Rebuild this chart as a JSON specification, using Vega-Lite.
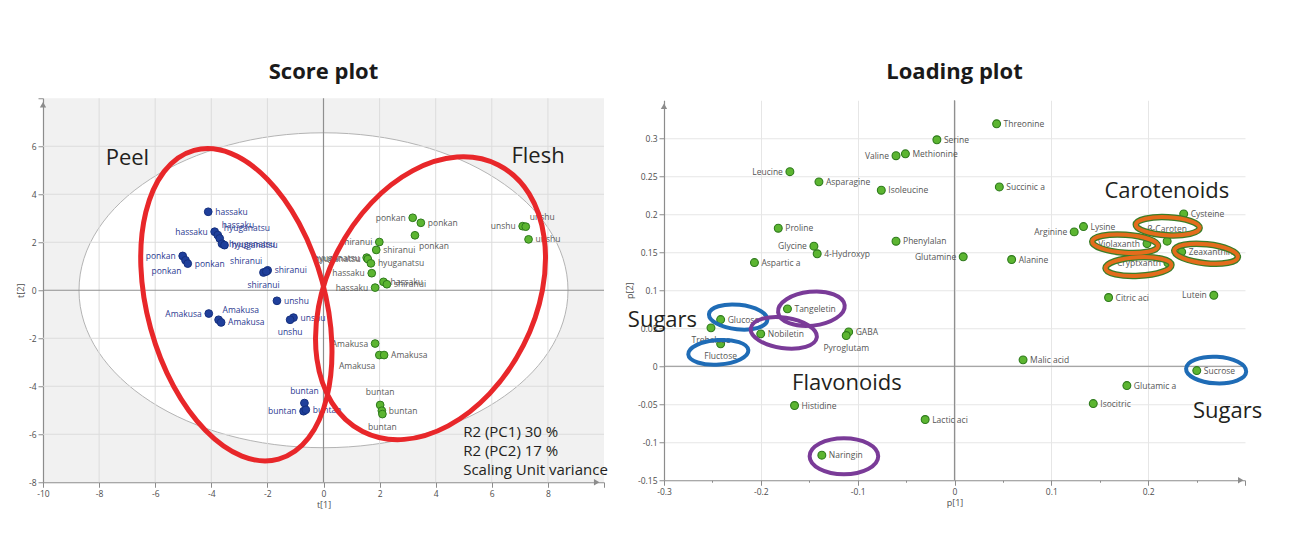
{
  "$schema": "https://vega.github.io/schema/vega-lite/v6.json",
  "background": "white",
  "padding": {"left": 16, "top": 60, "right": 5, "bottom": 5},
  "spacing": 17,
  "center": true,
  "resolve": {"scale": {"color": "independent", "fill": "independent", "stroke": "independent", "shape": "independent"}},
  "config": {
    "font": "Open Sans",
    "view": {"stroke": null},
    "axis": {"domainColor": "#8c8c8c", "tickColor": "#8c8c8c", "labelColor": "#4d4d4d", "labelFontSize": 8.5, "labelFont": "Open Sans", "titleFont": "Open Sans", "titleFontSize": 9, "titleFontWeight": "normal", "titleColor": "#4d4d4d", "titlePadding": 3, "labelPadding": 2, "gridColor": "#e6e6e6", "labelFlush": false, "labelOverlap": false, "domainWidth": 1.2},
    "title": {"fontSize": 22, "fontWeight": "bold", "color": "#1a1a1a", "anchor": "middle", "frame": "group", "font": "Open Sans"}
  },
  "datasets": {
    "score": [
      {"name": "hassaku", "part": "Peel", "x": -4.11, "y": 3.27, "pos": "right"},
      {"name": "hassaku", "part": "Peel", "x": -3.88, "y": 2.44, "pos": "left"},
      {"name": "hassaku", "part": "Peel", "x": -3.77, "y": 2.30, "pos": "aboveright"},
      {"name": "hyuganatsu", "part": "Peel", "x": -3.70, "y": 2.16, "pos": "aboveright"},
      {"name": "hyuganatsu", "part": "Peel", "x": -3.62, "y": 1.94, "pos": "right"},
      {"name": "hyuganatsu", "part": "Peel", "x": -3.53, "y": 1.88, "pos": "right"},
      {"name": "ponkan", "part": "Peel", "x": -5.02, "y": 1.43, "pos": "left"},
      {"name": "ponkan", "part": "Peel", "x": -4.92, "y": 1.25, "pos": "belowleft"},
      {"name": "ponkan", "part": "Peel", "x": -4.84, "y": 1.11, "pos": "right"},
      {"name": "shiranui", "part": "Peel", "x": -2.14, "y": 0.74, "pos": "below"},
      {"name": "shiranui", "part": "Peel", "x": -1.99, "y": 0.83, "pos": "right"},
      {"name": "shiranui", "part": "Peel", "x": -2.04, "y": 0.78, "pos": "aboveleft"},
      {"name": "unshu", "part": "Peel", "x": -1.66, "y": -0.44, "pos": "right"},
      {"name": "unshu", "part": "Peel", "x": -1.07, "y": -1.14, "pos": "right"},
      {"name": "unshu", "part": "Peel", "x": -1.19, "y": -1.23, "pos": "below"},
      {"name": "Amakusa", "part": "Peel", "x": -4.09, "y": -0.97, "pos": "left"},
      {"name": "Amakusa", "part": "Peel", "x": -3.74, "y": -1.23, "pos": "aboveright"},
      {"name": "Amakusa", "part": "Peel", "x": -3.65, "y": -1.34, "pos": "right"},
      {"name": "buntan", "part": "Peel", "x": -0.68, "y": -4.70, "pos": "above"},
      {"name": "buntan", "part": "Peel", "x": -0.71, "y": -5.04, "pos": "left"},
      {"name": "buntan", "part": "Peel", "x": -0.63, "y": -4.98, "pos": "right"},
      {"name": "ponkan", "part": "Flesh", "x": 3.18, "y": 3.02, "pos": "left"},
      {"name": "ponkan", "part": "Flesh", "x": 3.47, "y": 2.81, "pos": "right"},
      {"name": "ponkan", "part": "Flesh", "x": 3.26, "y": 2.29, "pos": "belowright"},
      {"name": "shiranui", "part": "Flesh", "x": 1.99, "y": 2.01, "pos": "left"},
      {"name": "shiranui", "part": "Flesh", "x": 1.88, "y": 1.68, "pos": "right"},
      {"name": "hyuganatsu", "part": "Flesh", "x": 1.54, "y": 1.36, "pos": "left"},
      {"name": "hyuganatsu", "part": "Flesh", "x": 1.58, "y": 1.30, "pos": "left"},
      {"name": "hyuganatsu", "part": "Flesh", "x": 1.69, "y": 1.12, "pos": "right"},
      {"name": "hassaku", "part": "Flesh", "x": 1.72, "y": 0.71, "pos": "left"},
      {"name": "hassaku", "part": "Flesh", "x": 1.84, "y": 0.11, "pos": "left"},
      {"name": "hassaku", "part": "Flesh", "x": 2.14, "y": 0.35, "pos": "right"},
      {"name": "shiranui", "part": "Flesh", "x": 2.26, "y": 0.25, "pos": "right"},
      {"name": "unshu", "part": "Flesh", "x": 7.10, "y": 2.67, "pos": "left"},
      {"name": "unshu", "part": "Flesh", "x": 7.21, "y": 2.65, "pos": "aboveright"},
      {"name": "unshu", "part": "Flesh", "x": 7.31, "y": 2.12, "pos": "right"},
      {"name": "Amakusa", "part": "Flesh", "x": 1.84, "y": -2.22, "pos": "left"},
      {"name": "Amakusa", "part": "Flesh", "x": 1.99, "y": -2.70, "pos": "belowleft"},
      {"name": "Amakusa", "part": "Flesh", "x": 2.16, "y": -2.70, "pos": "right"},
      {"name": "buntan", "part": "Flesh", "x": 2.02, "y": -4.78, "pos": "above"},
      {"name": "buntan", "part": "Flesh", "x": 2.08, "y": -5.02, "pos": "right"},
      {"name": "buntan", "part": "Flesh", "x": 2.10, "y": -5.16, "pos": "below"}
    ],
    "loading": [
      {"name": "Serine", "x": -0.0182, "y": 0.298, "pos": "right"},
      {"name": "Valine", "x": -0.0604, "y": 0.277, "pos": "left"},
      {"name": "Methionine", "x": -0.0507, "y": 0.2795, "pos": "right"},
      {"name": "Leucine", "x": -0.170, "y": 0.256, "pos": "left"},
      {"name": "Asparagine", "x": -0.140, "y": 0.2426, "pos": "right"},
      {"name": "Isoleucine", "x": -0.0756, "y": 0.2316, "pos": "right"},
      {"name": "Proline", "x": -0.182, "y": 0.1816, "pos": "right"},
      {"name": "Glycine", "x": -0.1452, "y": 0.158, "pos": "left"},
      {"name": "4-Hydroxyp", "x": -0.1418, "y": 0.148, "pos": "right"},
      {"name": "Phenylalan", "x": -0.0604, "y": 0.1645, "pos": "right"},
      {"name": "Aspartic a", "x": -0.2066, "y": 0.1364, "pos": "right"},
      {"name": "Glutamine", "x": 0.009, "y": 0.144, "pos": "left"},
      {"name": "Threonine", "x": 0.0435, "y": 0.319, "pos": "right"},
      {"name": "Succinic a", "x": 0.0463, "y": 0.236, "pos": "right"},
      {"name": "Arginine", "x": 0.1236, "y": 0.1768, "pos": "left"},
      {"name": "Lysine", "x": 0.1332, "y": 0.1838, "pos": "right"},
      {"name": "Alanine", "x": 0.059, "y": 0.1404, "pos": "right"},
      {"name": "Cysteine", "x": 0.2367, "y": 0.2005, "pos": "right"},
      {"name": "β-Caroten", "x": 0.2196, "y": 0.1646, "pos": "above"},
      {"name": "Violaxanth", "x": 0.1988, "y": 0.1614, "pos": "left"},
      {"name": "Zeaxanthin", "x": 0.2346, "y": 0.1505, "pos": "right"},
      {"name": "Cryptxanth", "x": 0.2204, "y": 0.136, "pos": "left"},
      {"name": "Citric aci", "x": 0.1591, "y": 0.0904, "pos": "right"},
      {"name": "Lutein", "x": 0.2678, "y": 0.0934, "pos": "left"},
      {"name": "Trehalose", "x": -0.2515, "y": 0.0505, "pos": "below"},
      {"name": "Glucose", "x": -0.2415, "y": 0.0614, "pos": "right"},
      {"name": "Fluctose", "x": -0.2415, "y": 0.0295, "pos": "below"},
      {"name": "Tangeletin", "x": -0.1725, "y": 0.0755, "pos": "right"},
      {"name": "Nobiletin", "x": -0.2001, "y": 0.0426, "pos": "right"},
      {"name": "GABA", "x": -0.1093, "y": 0.0452, "pos": "right"},
      {"name": "Pyroglutam", "x": -0.1118, "y": 0.0404, "pos": "below"},
      {"name": "Histidine", "x": -0.1652, "y": -0.0517, "pos": "right"},
      {"name": "Lactic aci", "x": -0.0303, "y": -0.0701, "pos": "right"},
      {"name": "Naringin", "x": -0.137, "y": -0.117, "pos": "right"},
      {"name": "Malic acid", "x": 0.0708, "y": 0.0084, "pos": "right"},
      {"name": "Sucrose", "x": 0.2502, "y": -0.0057, "pos": "right"},
      {"name": "Glutamic a", "x": 0.178, "y": -0.0254, "pos": "right"},
      {"name": "Isocitric", "x": 0.1433, "y": -0.0491, "pos": "right"}
    ],
    "rings": [
      {"id": "Glucose", "group": "sugar", "x": -0.2234, "y": 0.0647},
      {"id": "Fluctose", "group": "sugar", "x": -0.2439, "y": 0.0183},
      {"id": "Sucrose", "group": "sugar", "x": 0.2702, "y": -0.005},
      {"id": "Tangeletin", "group": "flavonoid", "x": -0.1478, "y": 0.0757},
      {"id": "Nobiletin", "group": "flavonoid", "x": -0.1763, "y": 0.0439},
      {"id": "Naringin", "group": "flavonoid", "x": -0.1142, "y": -0.1184},
      {"id": "bCaroten", "group": "carotenoid", "x": 0.2202, "y": 0.1842},
      {"id": "Violaxanth", "group": "carotenoid", "x": 0.1762, "y": 0.1612},
      {"id": "Zeaxanthin", "group": "carotenoid", "x": 0.2598, "y": 0.148},
      {"id": "Cryptxanth", "group": "carotenoid", "x": 0.19, "y": 0.1312}
    ]
  },
  "hconcat": [
    {
      "width": 561,
      "height": 384,
      "title": {"text": "Score plot", "offset": 10},
      "view": {"fill": "#f1f1f1", "stroke": null},
      "layer": [
        {
          "data": {"values": [{"x": 0, "y": 0}]},
          "mark": {"type": "point", "shape": "M 1 0 A 1 0.644 0 0 1 0 0.644 A 1 0.644 0 0 1 -1 0 A 1 0.644 0 0 1 0 -0.644 A 1 0.644 0 0 1 1 0 Z", "size": 239121, "filled": true, "fill": "white", "stroke": "#b4b4b4", "strokeWidth": 1, "opacity": 1},
          "encoding": {
            "x": {"field": "x", "type": "quantitative", "scale": {"domain": [-10, 10], "nice": false, "zero": false},
              "axis": {"title": "t[1]", "grid": false, "labelOverlap": false, "values": [-10,-9,-8,-7,-6,-5,-4,-3,-2,-1,0,1,2,3,4,5,6,7,8,9,10],
                "labelExpr": "datum.value % 2 === 0 && datum.value < 10 ? '' + datum.value : ''",
                "tickSize": {"condition": {"test": "datum.value % 2 !== 0", "value": 2}, "value": 5}}},
            "y": {"field": "y", "type": "quantitative", "scale": {"domain": [-8, 8], "nice": false, "zero": false},
              "axis": {"title": "t[2]", "grid": false, "labelOverlap": false, "values": [-8,-7,-6,-5,-4,-3,-2,-1,0,1,2,3,4,5,6,7,8],
                "labelExpr": "datum.value % 2 === 0 && datum.value < 8 ? '' + datum.value : ''",
                "tickSize": {"condition": {"test": "datum.value % 2 !== 0", "value": 2}, "value": 5}}}
          }
        },
        {
          "data": {"values": [{"x": -8}, {"x": -6}, {"x": -4}, {"x": -2}, {"x": 2}, {"x": 4}, {"x": 6}, {"x": 8}]},
          "mark": {"type": "rule", "color": "#dcdcdc", "strokeWidth": 1},
          "encoding": {"x": {"field": "x", "type": "quantitative"}}
        },
        {
          "data": {"values": [{"y": -6}, {"y": -4}, {"y": -2}, {"y": 2}, {"y": 4}, {"y": 6}]},
          "mark": {"type": "rule", "color": "#dcdcdc", "strokeWidth": 1},
          "encoding": {"y": {"field": "y", "type": "quantitative"}}
        },
        {
          "data": {"values": [{"x": 0}]},
          "mark": {"type": "rule", "color": "#8f8f8f", "strokeWidth": 1.2},
          "encoding": {"x": {"field": "x", "type": "quantitative"}}
        },
        {
          "data": {"values": [{"y": 0}]},
          "mark": {"type": "rule", "color": "#8f8f8f", "strokeWidth": 1.2},
          "encoding": {"y": {"field": "y", "type": "quantitative"}}
        },
        {
          "data": {"values": [{"x": -10, "y": 7.73}]},
          "mark": {"type": "point", "shape": "triangle-up", "size": 40, "filled": true, "color": "#8c8c8c", "opacity": 1},
          "encoding": {"x": {"field": "x", "type": "quantitative"}, "y": {"field": "y", "type": "quantitative"}}
        },
        {
          "data": {"values": [{"x": 9.74, "y": -8}]},
          "mark": {"type": "point", "shape": "triangle-right", "size": 40, "filled": true, "color": "#8c8c8c", "opacity": 1},
          "encoding": {"x": {"field": "x", "type": "quantitative"}, "y": {"field": "y", "type": "quantitative"}}
        },
        {
          "data": {"name": "score"},
          "mark": {"type": "point", "filled": true, "size": 60, "strokeWidth": 1, "opacity": 1},
          "encoding": {
            "x": {"field": "x", "type": "quantitative"},
            "y": {"field": "y", "type": "quantitative"},
            "fill": {"field": "part", "type": "nominal", "scale": {"domain": ["Peel", "Flesh"], "range": ["#1f3f9b", "#5cb531"]}, "legend": null},
            "stroke": {"field": "part", "type": "nominal", "scale": {"domain": ["Peel", "Flesh"], "range": ["#15307e", "#2e7a1c"]}, "legend": null}
          }
        },
        {
          "data": {"name": "score"},
          "transform": [{"filter": "datum.pos === 'right'"}],
          "mark": {"type": "text", "align": "left", "baseline": "middle", "dx": 7, "fontSize": 8.5},
          "encoding": {"x": {"field": "x", "type": "quantitative"}, "y": {"field": "y", "type": "quantitative"}, "text": {"field": "name"},
            "color": {"field": "part", "type": "nominal", "scale": {"domain": ["Peel", "Flesh"], "range": ["#2b3990", "#5a5a5a"]}, "legend": null}}
        },
        {
          "data": {"name": "score"},
          "transform": [{"filter": "datum.pos === 'left'"}],
          "mark": {"type": "text", "align": "right", "baseline": "middle", "dx": -7, "fontSize": 8.5},
          "encoding": {"x": {"field": "x", "type": "quantitative"}, "y": {"field": "y", "type": "quantitative"}, "text": {"field": "name"},
            "color": {"field": "part", "type": "nominal", "scale": {"domain": ["Peel", "Flesh"], "range": ["#2b3990", "#5a5a5a"]}, "legend": null}}
        },
        {
          "data": {"name": "score"},
          "transform": [{"filter": "datum.pos === 'above'"}],
          "mark": {"type": "text", "align": "center", "baseline": "middle", "dy": -12.5, "fontSize": 8.5},
          "encoding": {"x": {"field": "x", "type": "quantitative"}, "y": {"field": "y", "type": "quantitative"}, "text": {"field": "name"},
            "color": {"field": "part", "type": "nominal", "scale": {"domain": ["Peel", "Flesh"], "range": ["#2b3990", "#5a5a5a"]}, "legend": null}}
        },
        {
          "data": {"name": "score"},
          "transform": [{"filter": "datum.pos === 'below'"}],
          "mark": {"type": "text", "align": "center", "baseline": "middle", "dy": 12.5, "fontSize": 8.5},
          "encoding": {"x": {"field": "x", "type": "quantitative"}, "y": {"field": "y", "type": "quantitative"}, "text": {"field": "name"},
            "color": {"field": "part", "type": "nominal", "scale": {"domain": ["Peel", "Flesh"], "range": ["#2b3990", "#5a5a5a"]}, "legend": null}}
        },
        {
          "data": {"name": "score"},
          "transform": [{"filter": "datum.pos === 'aboveright'"}],
          "mark": {"type": "text", "align": "left", "baseline": "middle", "dx": 4, "dy": -10, "fontSize": 8.5},
          "encoding": {"x": {"field": "x", "type": "quantitative"}, "y": {"field": "y", "type": "quantitative"}, "text": {"field": "name"},
            "color": {"field": "part", "type": "nominal", "scale": {"domain": ["Peel", "Flesh"], "range": ["#2b3990", "#5a5a5a"]}, "legend": null}}
        },
        {
          "data": {"name": "score"},
          "transform": [{"filter": "datum.pos === 'aboveleft'"}],
          "mark": {"type": "text", "align": "right", "baseline": "middle", "dx": -4, "dy": -11, "fontSize": 8.5},
          "encoding": {"x": {"field": "x", "type": "quantitative"}, "y": {"field": "y", "type": "quantitative"}, "text": {"field": "name"},
            "color": {"field": "part", "type": "nominal", "scale": {"domain": ["Peel", "Flesh"], "range": ["#2b3990", "#5a5a5a"]}, "legend": null}}
        },
        {
          "data": {"name": "score"},
          "transform": [{"filter": "datum.pos === 'belowleft'"}],
          "mark": {"type": "text", "align": "right", "baseline": "middle", "dx": -4, "dy": 11, "fontSize": 8.5},
          "encoding": {"x": {"field": "x", "type": "quantitative"}, "y": {"field": "y", "type": "quantitative"}, "text": {"field": "name"},
            "color": {"field": "part", "type": "nominal", "scale": {"domain": ["Peel", "Flesh"], "range": ["#2b3990", "#5a5a5a"]}, "legend": null}}
        },
        {
          "data": {"name": "score"},
          "transform": [{"filter": "datum.pos === 'belowright'"}],
          "mark": {"type": "text", "align": "left", "baseline": "middle", "dx": 4, "dy": 11, "fontSize": 8.5},
          "encoding": {"x": {"field": "x", "type": "quantitative"}, "y": {"field": "y", "type": "quantitative"}, "text": {"field": "name"},
            "color": {"field": "part", "type": "nominal", "scale": {"domain": ["Peel", "Flesh"], "range": ["#2b3990", "#5a5a5a"]}, "legend": null}}
        },
        {
          "data": {"values": [{"x": -3.107, "y": -0.603}]},
          "mark": {"type": "point", "shape": "M 0.264 0.965 A 1 0.556 74.7 0 1 -0.536 0.147 A 1 0.556 74.7 0 1 -0.264 -0.965 A 1 0.556 74.7 0 1 0.536 -0.147 A 1 0.556 74.7 0 1 0.264 0.965 Z", "size": 102400, "filled": false, "stroke": "#e8272a", "strokeWidth": 5, "opacity": 1},
          "encoding": {"x": {"field": "x", "type": "quantitative"}, "y": {"field": "y", "type": "quantitative"}}
        },
        {
          "data": {"values": [{"x": 3.815, "y": -0.333}]},
          "mark": {"type": "point", "shape": "M 0.454 -0.891 A 1 0.697 -63 0 1 0.621 0.316 A 1 0.697 -63 0 1 -0.454 0.891 A 1 0.697 -63 0 1 -0.621 -0.316 A 1 0.697 -63 0 1 0.454 -0.891 Z", "size": 89401, "filled": false, "stroke": "#e8272a", "strokeWidth": 5, "opacity": 1},
          "encoding": {"x": {"field": "x", "type": "quantitative"}, "y": {"field": "y", "type": "quantitative"}}
        },
        {
          "data": {"values": [{"text": "Peel", "x": -6.99, "y": 5.53}, {"text": "Flesh", "x": 7.65, "y": 5.61}]},
          "mark": {"type": "text", "align": "center", "baseline": "middle", "fontSize": 22, "color": "#231f20"},
          "encoding": {"x": {"field": "x", "type": "quantitative"}, "y": {"field": "y", "type": "quantitative"}, "text": {"field": "text"}}
        },
        {
          "data": {"values": [{"text": "R2 (PC1) 30 %", "x": 4.98, "y": -5.89}, {"text": "R2 (PC2) 17 %", "x": 4.98, "y": -6.71}, {"text": "Scaling Unit variance", "x": 4.98, "y": -7.51}]},
          "mark": {"type": "text", "align": "left", "baseline": "middle", "fontSize": 15, "color": "#231f20"},
          "encoding": {"x": {"field": "x", "type": "quantitative"}, "y": {"field": "y", "type": "quantitative"}, "text": {"field": "text"}}
        }
      ]
    },
    {
      "width": 581,
      "height": 380,
      "title": {"text": "Loading plot", "offset": 16},
      "view": {"fill": "white", "stroke": null},
      "layer": [
        {
          "data": {"values": [{"x": 0}]},
          "mark": {"type": "rule", "color": "#8f8f8f", "strokeWidth": 1.2},
          "encoding": {
            "x": {"field": "x", "type": "quantitative", "scale": {"domain": [-0.3, 0.3], "nice": false, "zero": false},
              "axis": {"title": "p[1]", "grid": true, "labelOverlap": false,
                "values": [-0.3,-0.25,-0.2,-0.15,-0.1,-0.05,0,0.05,0.1,0.15,0.2,0.25,0.3],
                "labelExpr": "abs(datum.value*10 - round(datum.value*10)) < 0.001 && datum.value < 0.29 ? '' + datum.value : ''",
                "tickSize": {"condition": {"test": "abs(datum.value*10 - round(datum.value*10)) > 0.001", "value": 2}, "value": 5},
                "gridOpacity": {"condition": {"test": "abs(datum.value*10 - round(datum.value*10)) > 0.001 || datum.value > 0.29 || datum.value < -0.29", "value": 0}, "value": 1}}}
          }
        },
        {
          "data": {"values": [{"y": 0}]},
          "mark": {"type": "rule", "color": "#8f8f8f", "strokeWidth": 1.2},
          "encoding": {
            "y": {"field": "y", "type": "quantitative", "scale": {"domain": [-0.15, 0.35], "nice": false, "zero": false},
              "axis": {"title": "p[2]", "grid": true, "labelOverlap": false,
                "values": [-0.15,-0.1,-0.05,0,0.05,0.1,0.15,0.2,0.25,0.3],
                "labelExpr": "'' + datum.value",
                "tickSize": 5,
                "gridOpacity": {"condition": {"test": "datum.value < -0.14", "value": 0}, "value": 1}}}
          }
        },
        {
          "data": {"values": [{"x": -0.3, "y": 0.342}]},
          "mark": {"type": "point", "shape": "triangle-up", "size": 40, "filled": true, "color": "#8c8c8c", "opacity": 1},
          "encoding": {"x": {"field": "x", "type": "quantitative"}, "y": {"field": "y", "type": "quantitative"}}
        },
        {
          "data": {"values": [{"x": 0.2956, "y": -0.15}]},
          "mark": {"type": "point", "shape": "triangle-right", "size": 40, "filled": true, "color": "#8c8c8c", "opacity": 1},
          "encoding": {"x": {"field": "x", "type": "quantitative"}, "y": {"field": "y", "type": "quantitative"}}
        },
        {
          "data": {"name": "loading"},
          "mark": {"type": "point", "filled": true, "size": 62, "fill": "#5cb531", "stroke": "#2e7a1c", "strokeWidth": 1.1, "opacity": 1},
          "encoding": {"x": {"field": "x", "type": "quantitative"}, "y": {"field": "y", "type": "quantitative"}}
        },
        {
          "data": {"name": "loading"},
          "transform": [{"filter": "datum.pos === 'right'"}],
          "mark": {"type": "text", "align": "left", "baseline": "middle", "dx": 7, "fontSize": 8.5, "color": "#555555"},
          "encoding": {"x": {"field": "x", "type": "quantitative"}, "y": {"field": "y", "type": "quantitative"}, "text": {"field": "name"}}
        },
        {
          "data": {"name": "loading"},
          "transform": [{"filter": "datum.pos === 'left'"}],
          "mark": {"type": "text", "align": "right", "baseline": "middle", "dx": -7, "fontSize": 8.5, "color": "#555555"},
          "encoding": {"x": {"field": "x", "type": "quantitative"}, "y": {"field": "y", "type": "quantitative"}, "text": {"field": "name"}}
        },
        {
          "data": {"name": "loading"},
          "transform": [{"filter": "datum.pos === 'above'"}],
          "mark": {"type": "text", "align": "center", "baseline": "middle", "dy": -12.5, "fontSize": 8.5, "color": "#555555"},
          "encoding": {"x": {"field": "x", "type": "quantitative"}, "y": {"field": "y", "type": "quantitative"}, "text": {"field": "name"}}
        },
        {
          "data": {"name": "loading"},
          "transform": [{"filter": "datum.pos === 'below'"}],
          "mark": {"type": "text", "align": "center", "baseline": "middle", "dy": 12.5, "fontSize": 8.5, "color": "#555555"},
          "encoding": {"x": {"field": "x", "type": "quantitative"}, "y": {"field": "y", "type": "quantitative"}, "text": {"field": "name"}}
        },
        {
          "data": {"name": "rings"},
          "transform": [{"filter": "datum.group === 'carotenoid'"}],
          "mark": {"type": "point", "filled": false, "size": 10000, "stroke": "#3b7d27", "strokeWidth": 6.5, "opacity": 1},
          "encoding": {"x": {"field": "x", "type": "quantitative"}, "y": {"field": "y", "type": "quantitative"},
            "shape": {"field": "id", "type": "nominal", "legend": null, "scale": {
              "domain": ["Glucose", "Fluctose", "Sucrose", "Tangeletin", "Nobiletin", "Naringin", "bCaroten", "Violaxanth", "Zeaxanthin", "Cryptxanth"],
              "range": [
                "M 0.583 0.061 A 0.586 0.246 6 0 1 -0.026 0.245 A 0.586 0.246 6 0 1 -0.583 -0.061 A 0.586 0.246 6 0 1 0.026 -0.245 A 0.586 0.246 6 0 1 0.583 0.061 Z",
                "M 0.601 -0.042 A 0.602 0.246 -4 0 1 0.017 0.245 A 0.602 0.246 -4 0 1 -0.601 0.042 A 0.602 0.246 -4 0 1 -0.017 -0.245 A 0.602 0.246 -4 0 1 0.601 -0.042 Z",
                "M 0.601 0.031 A 0.602 0.266 3 0 1 -0.014 0.266 A 0.602 0.266 3 0 1 -0.601 -0.031 A 0.602 0.266 3 0 1 0.014 -0.266 A 0.602 0.266 3 0 1 0.601 0.031 Z",
                "M 0.666 -0.07 A 0.67 0.34 -6 0 1 0.036 0.338 A 0.67 0.34 -6 0 1 -0.666 0.07 A 0.67 0.34 -6 0 1 -0.036 -0.338 A 0.67 0.34 -6 0 1 0.666 -0.07 Z",
                "M 0.66 0.093 A 0.666 0.306 8 0 1 -0.043 0.303 A 0.666 0.306 8 0 1 -0.66 -0.093 A 0.666 0.306 8 0 1 0.043 -0.303 A 0.666 0.306 8 0 1 0.66 0.093 Z",
                "M 0.686 0 A 0.686 0.36 0 0 1 0 0.36 A 0.686 0.36 0 0 1 -0.686 0 A 0.686 0.36 0 0 1 0 -0.36 A 0.686 0.36 0 0 1 0.686 0 Z",
                "M 0.639 0.033 A 0.64 0.18 3 0 1 -0.009 0.18 A 0.64 0.18 3 0 1 -0.639 -0.033 A 0.64 0.18 3 0 1 0.009 -0.18 A 0.64 0.18 3 0 1 0.639 0.033 Z",
                "M 0.658 0.046 A 0.66 0.18 4 0 1 -0.013 0.18 A 0.66 0.18 4 0 1 -0.658 -0.046 A 0.66 0.18 4 0 1 0.013 -0.18 A 0.66 0.18 4 0 1 0.658 0.046 Z",
                "M 0.636 0.067 A 0.64 0.19 6 0 1 -0.02 0.189 A 0.64 0.19 6 0 1 -0.636 -0.067 A 0.64 0.19 6 0 1 0.02 -0.189 A 0.64 0.19 6 0 1 0.636 0.067 Z",
                "M 0.659 -0.035 A 0.66 0.186 -3 0 1 0.01 0.186 A 0.66 0.186 -3 0 1 -0.659 0.035 A 0.66 0.186 -3 0 1 -0.01 -0.186 A 0.66 0.186 -3 0 1 0.659 -0.035 Z"
              ]}}}
        },
        {
          "data": {"name": "rings"},
          "mark": {"type": "point", "filled": false, "size": 10000, "strokeWidth": 4, "opacity": 1},
          "encoding": {"x": {"field": "x", "type": "quantitative"}, "y": {"field": "y", "type": "quantitative"},
            "shape": {"field": "id", "type": "nominal", "legend": null},
            "stroke": {"field": "group", "type": "nominal", "legend": null, "scale": {"domain": ["sugar", "flavonoid", "carotenoid"], "range": ["#1f6cb6", "#7a3b98", "#e46c1c"]}}}
        },
        {
          "data": {"values": [{"text": "Carotenoids", "x": 0.2193, "y": 0.2303}, {"text": "Sugars", "x": -0.3016, "y": 0.0614}, {"text": "Sugars", "x": 0.282, "y": -0.0592}, {"text": "Flavonoids", "x": -0.1111, "y": -0.0218}]},
          "mark": {"type": "text", "align": "center", "baseline": "middle", "fontSize": 22, "color": "#231f20"},
          "encoding": {"x": {"field": "x", "type": "quantitative"}, "y": {"field": "y", "type": "quantitative"}, "text": {"field": "text"}}
        }
      ]
    }
  ]
}
